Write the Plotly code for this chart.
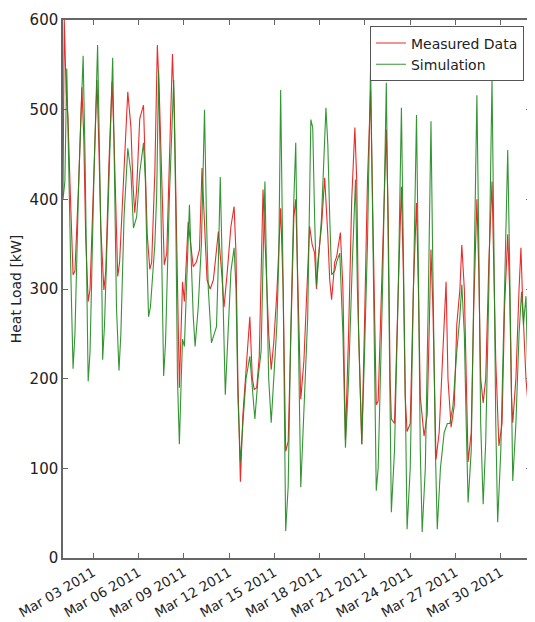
import pandas as pd
import plotly.graph_objects as go

start = pd.Timestamp("2011-03-01 00:00")

# Measured data: hours since Mar 01 2011 00:00 and heat load [kW]
meas_hours = [0, 2, 5, 8, 11, 16, 19, 25, 30, 33, 36, 40, 43, 49, 54, 57, 60, 65, 68, 73,
              78, 81, 84, 87, 90, 97, 103, 108, 111, 114, 117, 122, 128, 131, 134, 138, 141, 146, 150, 153,
              157, 161, 165, 169, 174, 177, 182, 185, 190, 193, 199, 204, 207, 212, 217, 221, 226, 229, 234, 239,
              242, 247, 252, 256, 261, 267, 272, 275, 278, 282, 286, 291, 297, 301, 304, 308, 312, 318, 323, 327,
              331, 335, 340, 346, 350, 354, 358, 362, 367, 370, 375, 378, 383, 388, 392, 396, 400, 403, 405, 411,
              416, 421, 424, 427, 432, 435, 441, 445, 449, 454, 459, 464, 467, 470, 475, 479, 484, 489, 492, 495,
              498, 501, 508, 514, 517, 520, 522, 527, 533, 538, 541, 544, 547, 552, 557, 562, 565, 568, 574, 579,
              582, 585, 588, 592, 593, 598, 603, 609, 612, 617, 622, 626, 631, 634, 638, 641, 644, 649, 653, 658,
              661, 664, 668, 672, 677, 682, 685, 688, 693, 698, 702, 707, 710, 713, 715, 720, 725, 728, 731, 736,
              740, 743]
meas_vals = [405, 600, 520, 490, 420, 316, 320, 420, 525, 470, 360, 286, 300, 430, 533, 460, 370, 299, 320, 440,
             531, 470, 380, 314, 330, 440, 520, 480, 420, 385, 410, 490, 505, 430, 360, 322, 330, 430, 572, 520,
             420, 327, 340, 450, 562, 500, 320, 190, 308, 286, 375, 340, 325, 330, 344, 435, 360, 310, 300, 310,
             330, 364, 320, 280, 318, 370, 392, 340, 200, 85, 160, 214, 269, 200, 188, 190, 225, 411, 325, 250,
             210, 240, 296, 390, 300, 119, 130, 250, 380, 400, 250, 177, 220, 310, 370, 350, 340, 300, 329, 370,
             424, 360, 310, 288, 330, 336, 363, 300, 132, 250, 400, 480, 420, 250, 127, 250, 420, 521, 400, 250,
             171, 175, 330, 478, 380, 200, 155, 150, 300, 414, 320, 180, 141, 150, 300, 396, 300, 180, 136, 160,
             250, 344, 280, 160, 110, 140, 220, 308, 200, 146, 170, 260, 300, 349, 300, 180, 107, 140, 280, 400,
             320, 200, 173, 200, 330, 420, 330, 220, 125, 150, 280, 361, 300, 180, 151, 200, 300, 346, 280, 200,
             166, 150]

# Simulation: hours since Mar 01 2011 00:00 and heat load [kW]
sim_hours = [0, 3, 6, 9, 13, 16, 19, 25, 32, 35, 38, 40, 43, 49, 55, 59, 62, 63, 66, 73,
             79, 82, 85, 89, 92, 97, 103, 108, 112, 117, 122, 128, 131, 134, 136, 139, 146, 149, 152, 155,
             158, 160, 163, 169, 176, 179, 182, 185, 188, 190, 193, 196, 201, 204, 207, 210, 215, 220, 225, 228,
             231, 236, 239, 244, 247, 250, 253, 258, 263, 267, 272, 275, 278, 282, 286, 291, 297, 302, 305, 310,
             315, 318, 321, 324, 327, 331, 335, 340, 343, 346, 350, 353, 354, 358, 362, 367, 370, 373, 377, 378,
             381, 386, 389, 394, 397, 400, 403, 406, 411, 418, 421, 424, 427, 432, 435, 440, 445, 449, 454, 460,
             465, 468, 475, 479, 484, 489, 492, 495, 498, 501, 508, 514, 517, 520, 522, 527, 533, 538, 541, 544,
             547, 552, 557, 562, 565, 568, 571, 576, 581, 585, 588, 592, 595, 600, 606, 611, 615, 620, 626, 631,
             634, 638, 641, 644, 649, 653, 658, 661, 664, 668, 672, 677, 682, 685, 688, 691, 696, 702, 707, 710,
             713, 715, 720, 725, 729, 732, 736, 739, 742, 743]
sim_vals = [400, 420, 546, 420, 300, 211, 250, 420, 560, 450, 280, 197, 230, 420, 572, 430, 290, 221, 260, 420,
            558, 420, 280, 209, 250, 380, 457, 430, 368, 380, 430, 463, 420, 320, 269, 280, 350, 407, 544, 420,
            250, 203, 240, 400, 533, 400, 200, 127, 200, 244, 236, 300, 394, 330, 270, 236, 280, 350, 500, 380,
            300, 240, 248, 258, 330, 425, 330, 182, 260, 320, 346, 300, 180, 107, 150, 200, 225, 180, 155, 200,
            231, 330, 420, 303, 200, 151, 200, 260, 333, 522, 300, 100, 30, 80, 250, 400, 463, 300, 150, 79,
            130, 230, 268, 489, 480, 380, 303, 330, 380, 502, 461, 380, 316, 320, 330, 340, 250, 123, 200, 330,
            422, 300, 127, 220, 350, 550, 400, 200, 75, 100, 300, 530, 350, 150, 51, 120, 300, 502, 350, 150,
            32, 100, 300, 494, 320, 120, 29, 100, 300, 487, 320, 120, 32, 100, 140, 150, 150, 170, 230, 270,
            305, 250, 150, 62, 120, 300, 516, 350, 150, 60, 130, 300, 534, 350, 150, 40, 120, 300, 455, 330,
            180, 86, 150, 250, 297, 260, 292, 200, 107, 140]

series_names = ["Measured Data", "Simulation"]
tick_dates = ["2011-03-03", "2011-03-06", "2011-03-09", "2011-03-12",
              "2011-03-15", "2011-03-18", "2011-03-21", "2011-03-24",
              "2011-03-27", "2011-03-30"]
y_ticks = [0, 100, 200, 300, 400, 500, 600]

meas_t = [start + pd.Timedelta(hours=h) for h in meas_hours]
sim_t = [start + pd.Timedelta(hours=h) for h in sim_hours]

fig = go.Figure()
fig.add_trace(go.Scatter(x=meas_t, y=meas_vals, mode="lines", name=series_names[0],
                         line=dict(color="#ec2a2a", width=1.1)))
fig.add_trace(go.Scatter(x=sim_t, y=sim_vals, mode="lines", name=series_names[1],
                         line=dict(color="#1f8a1f", width=1.1), opacity=0.9))

axis_col = "#666666"
# the page adds an 8px body margin, so the figure is made 8px smaller
fig.update_layout(
    width=527, height=614,
    margin=dict(l=55, r=2, t=12, b=63),
    paper_bgcolor="white", plot_bgcolor="white",
    font=dict(family="DejaVu Sans", size=14, color="#222222"),
    showlegend=True,
    legend=dict(x=0.985, y=0.988, xanchor="right", yanchor="top",
                bgcolor="white", bordercolor="#555555", borderwidth=1,
                font=dict(size=14), tracegroupgap=0, itemwidth=30,
                traceorder="normal"),
    xaxis=dict(
        range=[start, start + pd.Timedelta(hours=744)],
        tickvals=pd.to_datetime(tick_dates), tickformat="%b %d %Y",
        tickangle=-30, ticks="inside", ticklen=5, tickcolor=axis_col,
        showgrid=False, zeroline=False,
        showline=True, linecolor=axis_col, linewidth=1.5, mirror="ticks",
        tickfont=dict(size=13.5),
    ),
    yaxis=dict(
        range=[0, 600], tickvals=y_ticks,
        ticks="inside", ticklen=5, tickcolor=axis_col,
        showgrid=False, zeroline=False,
        showline=True, linecolor=axis_col, linewidth=1.5, mirror="ticks",
        title=dict(text="Heat Load [kW]", font=dict(size=14), standoff=6),
        tickfont=dict(size=15),
    ),
)

fig.write_html("out.html")
